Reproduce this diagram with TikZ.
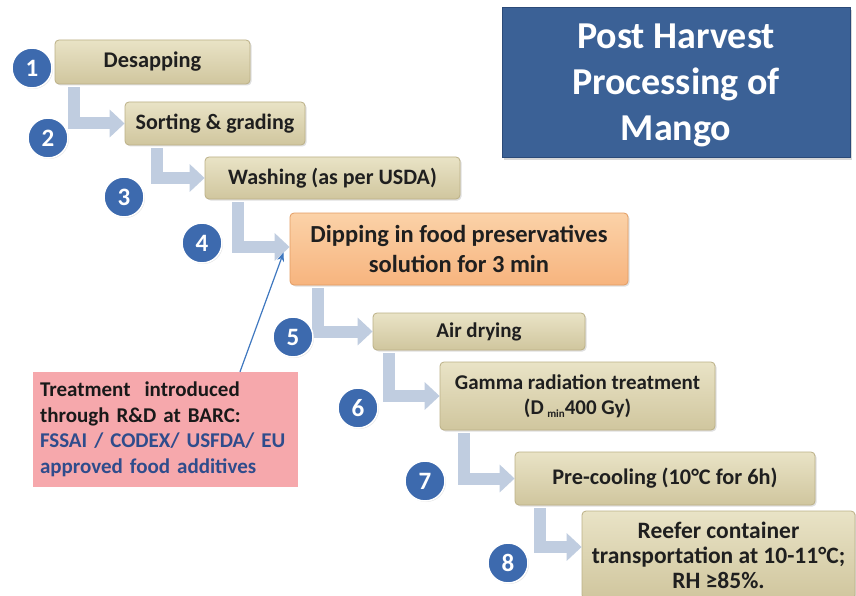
\documentclass[tikz,border=0pt]{standalone}
\usepackage{fontspec}
\setmainfont{Carlito}
\usetikzlibrary{arrows.meta,shadows,calc}
\definecolor{tanTop}{HTML}{E9E3C6}
\definecolor{tanBot}{HTML}{D0C69E}
\definecolor{tanEdge}{HTML}{BBB086}
\definecolor{orTop}{HTML}{FBD2A8}
\definecolor{orBot}{HTML}{F7B47E}
\definecolor{orEdge}{HTML}{E39C62}
\definecolor{flowCol}{HTML}{C0CDE0}
\definecolor{numBlue}{HTML}{3D6AAE}
\definecolor{titleBlue}{HTML}{3B6196}
\definecolor{titleEdge}{HTML}{2B4A78}
\definecolor{pinkFill}{HTML}{F6A8AC}
\definecolor{noteBlue}{HTML}{2F4C8C}
\definecolor{pointer}{HTML}{3F78C0}
\tikzset{
  stepbox/.style={rounded corners=4pt, top color=tanTop, bottom color=tanBot,
    draw=tanEdge, line width=0.8pt, align=center, inner sep=2pt,
    font=\fontsize{22}{25}\selectfont\bfseries, text=black!88,
    drop shadow={shadow xshift=1.5pt, shadow yshift=-1.5pt, opacity=0.25}},
  keybox/.style={stepbox, top color=orTop, bottom color=orBot, draw=orEdge},
  numdot/.style={circle, minimum size=40pt, inner sep=0pt, fill=numBlue,
    draw=white, line width=1.5pt, text=white,
    font=\fontsize{25}{25}\selectfont\bfseries,
    drop shadow={shadow xshift=1pt, shadow yshift=-1pt, opacity=0.2}},
  flowarrow/.style={draw=flowCol, line width=12pt,
    -{Triangle[width=27pt,length=15pt]}},
}
\begin{document}
\begin{tikzpicture}[x=1pt,y=-1pt]
\useasboundingbox (0,0) rectangle (856,596);
\fill[white] (0,0) rectangle (856,596);

% title
\node[rectangle, fill=titleBlue, draw=titleEdge, line width=1pt,
  minimum width=348pt, minimum height=150pt, text=white, align=center,
  font=\fontsize{38}{46}\selectfont\bfseries,
  drop shadow={shadow xshift=2pt, shadow yshift=-2pt, opacity=0.3}]
  (title) at (676,83) {};
\node[text=white, align=center, font=\fontsize{38}{46}\selectfont\bfseries]
  (titletext) at ([yshift=-2pt]title.center) {Post Harvest\\Processing of\\Mango};

% steps
\node[stepbox, minimum width=195pt, minimum height=44pt, font=\fontsize{22.4}{25}\selectfont\bfseries] (b1) at (152.5,62) {Desapping};
\node[stepbox, minimum width=180pt, minimum height=43pt] (b2) at (215,123.5) {Sorting \& grading};
\node[stepbox, minimum width=255pt, minimum height=42pt] (b3) at (332.5,178) {Washing (as per USDA)};
\node[keybox, minimum width=338pt, minimum height=72pt, font=\fontsize{24.5}{30}\selectfont\bfseries] (b4) at (459,249) {Dipping in food preservatives\\solution for 3 min};
\node[stepbox, minimum width=212pt, minimum height=37pt, font=\fontsize{21}{25}\selectfont\bfseries] (b5) at (479,331.5) {Air drying};
\node[stepbox, minimum width=275pt, minimum height=68pt, font=\fontsize{21}{25}\selectfont\bfseries] (b6) at (577.5,396) {Gamma radiation treatment\\(D\,\raisebox{-3pt}{\fontsize{11}{11}\selectfont min}400 Gy)};
\node[stepbox, minimum width=300pt, minimum height=53pt, font=\fontsize{22.3}{25}\selectfont\bfseries] (b7) at (665,478.5) {Pre-cooling (10°C for 6h)};
\node[stepbox, minimum width=273pt, minimum height=88pt, font=\fontsize{23.5}{25}\selectfont\bfseries] (b8) at (718.5,555) {Reefer container\\transportation at 10-11°C;\\RH ≥85\%.};

% flow arrows
\draw[flowarrow] ([xshift=19pt,yshift=-3pt]b1.south west) |- (b2.west);
\draw[flowarrow] ([xshift=32pt,yshift=-3pt]b2.south west) |- (b3.west);
\draw[flowarrow] ([xshift=33pt,yshift=-3pt]b3.south west) |- ([yshift=2pt]b4.west);
\draw[flowarrow] ([xshift=28pt,yshift=-3pt]b4.south west) |- (b5.west);
\draw[flowarrow] ([xshift=16pt,yshift=-3pt]b5.south west) |- (b6.west);
\draw[flowarrow] ([xshift=24pt,yshift=-3pt]b6.south west) |- (b7.west);
\draw[flowarrow] ([xshift=25pt,yshift=-3pt]b7.south west) |- ([yshift=8pt]b8.west);

% numbers
\node[numdot] (n1) at (32,68) {1};
\node[numdot] (n2) at (48,138) {2};
\node[numdot] (n3) at (124,197) {3};
\node[numdot] (n4) at (202,243) {4};
\node[numdot] (n5) at (293,337) {5};
\node[numdot] (n6) at (358,408) {6};
\node[numdot] (n7) at (425,481) {7};
\node[numdot] (n8) at (508,563) {8};

% note
\node[rectangle, fill=pinkFill, minimum width=265pt, minimum height=115pt,
  text width=251pt, align=left, inner sep=7pt,
  font=\fontsize{21}{25.5}\selectfont\bfseries, text=black!90]
  (note) at (165.5,429.5)
  {Treatment\ \ introduced\\through R\&D at BARC:\\
   \textcolor{noteBlue}{FSSAI / CODEX/ USFDA/ EU}\\
   \textcolor{noteBlue}{approved food additives}};
\draw[pointer, line width=1.2pt, -{Stealth[length=9pt,width=7pt]}]
  ([xshift=74.5pt]note.north) -- ([xshift=-6pt,yshift=33pt]b4.south west);
\end{tikzpicture}
\end{document}
